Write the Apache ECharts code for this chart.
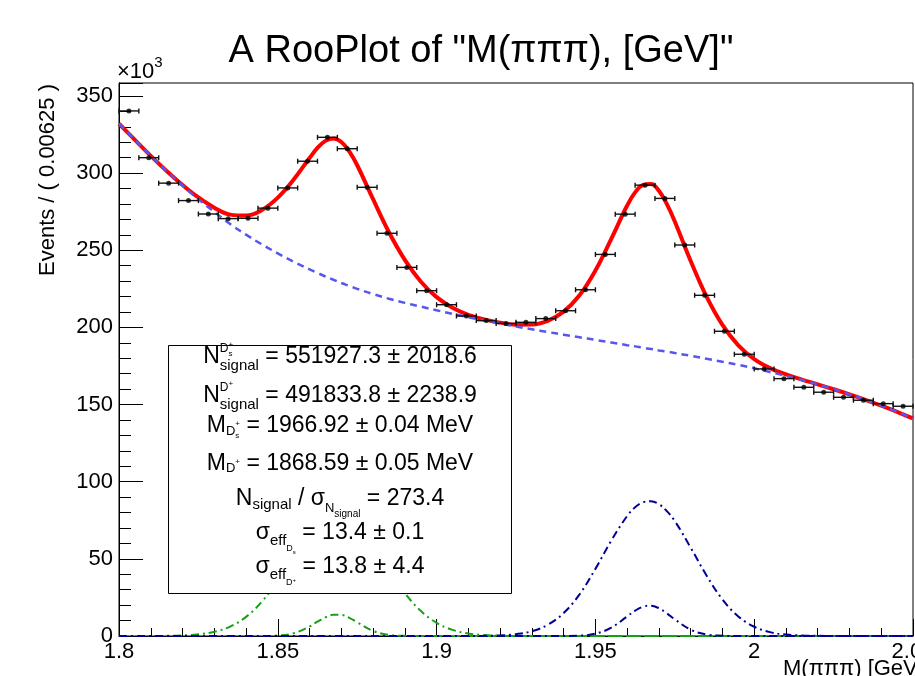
<!DOCTYPE html>
<html><head><meta charset="utf-8">
<script src="https://cdn.jsdelivr.net/npm/echarts@6/dist/echarts.min.js"></script>
<style>html,body{margin:0;padding:0;background:#fff}#c{width:915px;height:676px}</style>
</head><body><div id="c"></div>
<script>
// ---- data (values in units of 10^3 events) ----
const binWidth = 0.00625;
const binCenters = [1.803125,1.809375,1.815625,1.821875,1.828125,1.834375,1.840625,1.846875,1.853125,1.859375,
  1.865625,1.871875,1.878125,1.884375,1.890625,1.896875,1.903125,1.909375,1.915625,1.921875,
  1.928125,1.934375,1.940625,1.946875,1.953125,1.959375,1.965625,1.971875,1.978125,1.984375,
  1.990625,1.996875,2.003125,2.009375,2.015625,2.021875,2.028125,2.034375,2.040625,2.046875];
const eventCounts = [340.3,310.0,293.5,282.2,273.5,270.5,270.7,277.3,290.4,307.7,
  323.2,315.8,290.8,261.0,238.9,223.8,214.7,207.4,204.4,202.6,
  203.3,205.7,210.8,224.4,247.3,273.4,292.2,283.6,253.4,220.8,
  197.5,182.6,173.1,166.8,161.2,158.0,154.7,152.8,150.6,148.9];

const curveX = [1.800,1.805,1.810,1.815,1.820,1.825,1.830,1.835,1.840,1.845,1.850,1.855,1.860,1.8625,1.865,1.8675,1.870,1.8725,
  1.875,1.880,1.885,1.890,1.895,1.900,1.905,1.910,1.915,1.920,1.925,1.930,1.935,1.940,1.945,1.950,1.955,1.960,
  1.9625,1.965,1.9675,1.970,1.9725,1.975,1.980,1.985,1.990,1.995,2.000,2.005,2.010,2.015,2.020,2.025,2.030,2.035,2.040,2.045,2.050];
const fitTotal = [332.0,321.5,311.2,301.4,292.3,284.2,277.6,273.1,272.5,276.1,284.1,295.8,309.8,316.3,320.9,322.5,320.2,314.1,
  305.1,283.1,261.7,243.8,229.8,219.6,212.8,208.2,205.2,203.1,201.8,201.9,204.3,210.2,220.8,236.9,257.4,279.0,
  287.5,292.4,293.0,288.5,279.9,268.7,243.0,219.9,201.6,188.4,179.5,173.6,169.5,166.2,163.1,159.9,156.6,153.1,149.3,145.3,141.0];
const background = [332.0,321.5,311.2,301.3,291.9,283.1,274.9,267.0,260.1,253.8,248.0,242.6,237.6,235.3,233.0,230.9,228.8,226.9,
  225.0,221.6,218.6,215.9,213.5,211.1,208.8,206.6,204.5,202.5,200.6,198.8,197.0,195.3,193.6,191.9,190.2,188.5,
  187.7,186.8,186.0,185.1,184.3,183.4,181.6,179.7,177.7,175.7,173.5,171.1,168.6,165.9,163.0,159.9,156.6,153.1,149.3,145.3,141.0];
const dplusWide = [0,0,0,0.1,0.4,1.1,2.7,6.1,12.4,22.3,35.8,51.4,66.0,71.7,75.8,77.8,77.7,75.4,
  71.2,58.2,42.4,27.8,16.3,8.5,4.0,1.6,0.6,0.2,0,0,0,0,0,0,0,0,
  0,0,0,0,0,0,0,0,0,0,0,0,0,0,0,0,0,0,0,0,0];
const dplusNarrow = [0,0,0,0,0,0,0,0,0,0,0.3,1.8,6.2,9.3,12.1,13.8,13.7,11.8,
  8.9,3.3,0.7,0.1,0,0,0,0,0,0,0,0,0,0,0,0,0,0,
  0,0,0,0,0,0,0,0,0,0,0,0,0,0,0,0,0,0,0,0,0];
const dsMain = [0,0,0,0,0,0,0,0,0,0,0,0,0,0,0,0,0,0,
  0,0,0,0,0,0,0,0,0.1,0.4,1.2,3.1,7.3,14.9,27.0,43.5,61.8,77.8,
  83.4,86.6,87.4,85.4,80.9,74.5,57.3,39.2,23.7,12.7,6.0,2.5,0.9,0.3,0.1,0,0,0,0,0,0];
const dsNarrow = [0,0,0,0,0,0,0,0,0,0,0,0,0,0,0,0,0,0,
  0,0,0,0,0,0,0,0,0,0,0,0,0,0,0.2,1.5,5.4,12.7,
  16.4,19.0,19.6,18.0,14.7,10.8,4.1,1.0,0.2,0,0,0,0,0,0,0,0,0,0,0,0];

const titleText = 'A RooPlot of "M(\u03c0\u03c0\u03c0), [GeV]"';
const xTitle = 'M(\u03c0\u03c0\u03c0) [GeV]';
const yTitle = 'Events / ( 0.00625 )';

// ---- rendering ----
const FONT = '"Liberation Sans", Arial, Helvetica, sans-serif';
const mctx = document.createElement('canvas').getContext('2d');
function tw(t, s) { mctx.font = s + 'px ' + FONT; return mctx.measureText(t).width; }
function txt(t, x, y, s, opts) {
  opts = opts || {};
  const align = opts.align || 'left';
  return {
    type: 'text', x: x, y: y, rotation: opts.rotation || 0, z: opts.z || 101,
    style: { text: t, fontSize: s, fontFamily: FONT, fill: '#000',
      align: align, textAlign: align, verticalAlign: 'middle', textVerticalAlign: 'middle' }
  };
}
function txtB(t, x, base, s, opts) { return txt(t, x, base - 0.3465 * s, s, opts); }

function width(list) {
  let w = 0;
  for (const it of list) w += it.stack ? Math.max.apply(null, it.stack.map(width)) : tw(it.t, it.s);
  return w;
}
function place(list, x, base, out) {
  for (const it of list) {
    if (it.stack) {
      let mw = 0;
      for (const sub of it.stack) mw = Math.max(mw, place(sub, x, base, out) - x);
      x += mw;
    } else {
      out.push(txtB(it.t, x, base + it.dy, it.s));
      x += tw(it.t, it.s);
    }
  }
  return x;
}
function line(items, cx, base, out) { place(items, cx - width(items) / 2, base, out); }

const M = 23;
const legendLines = [
  [[{t:'N',s:M,dy:0},{stack:[[{t:'D',s:12,dy:-12},{stack:[[{t:'+',s:8,dy:-17}],[{t:'s',s:8,dy:-8}]]}],[{t:'signal',s:15,dy:6}]]},{t:' = 551927.3 \u00b1 2018.6',s:M,dy:0}], 365],
  [[{t:'N',s:M,dy:0},{stack:[[{t:'D',s:12,dy:-12},{t:'+',s:8,dy:-17}],[{t:'signal',s:15,dy:6}]]},{t:' = 491833.8 \u00b1 2238.9',s:M,dy:0}], 404],
  [[{t:'M',s:M,dy:0},{t:'D',s:13,dy:2},{stack:[[{t:'+',s:8,dy:-7}],[{t:'s',s:8,dy:5}]]},{t:' = 1966.92 \u00b1 0.04 MeV',s:M,dy:0}], 434],
  [[{t:'M',s:M,dy:0},{t:'D',s:13,dy:1},{t:'+',s:8,dy:-7},{t:' = 1868.59 \u00b1 0.05 MeV',s:M,dy:0}], 472],
  [[{t:'N',s:M,dy:0},{t:'signal',s:15,dy:3},{t:' / \u03c3',s:M,dy:0},{t:'N',s:13,dy:6},{t:'signal',s:10,dy:11},{t:' = 273.4',s:M,dy:0}], 507],
  [[{t:'\u03c3',s:M,dy:0},{t:'eff',s:15,dy:5},{t:'D',s:9,dy:11},{t:'s',s:6,dy:13},{t:' = 13.4 \u00b1 0.1',s:M,dy:0}], 541],
  [[{t:'\u03c3',s:M,dy:0},{t:'eff',s:15,dy:5},{t:'D',s:9,dy:11},{t:'+',s:6,dy:7},{t:' = 13.8 \u00b1 4.4',s:M,dy:0}], 575]
];

const graphics = [];
graphics.push({ type: 'rect', z: 100, shape: { x: 168.5, y: 345.5, width: 343, height: 248 },
  style: { fill: '#fff', stroke: '#000', lineWidth: 1 } });
for (const [items, base] of legendLines) line(items, 340, base, graphics);
graphics.push(txtB(titleText, 481, 65, 38, { align: 'center' }));
graphics.push(txtB('\u00d710', 117, 80, 22));
graphics.push(txtB('3', 117 + tw('\u00d710', 22), 68, 15));
graphics.push(txt(yTitle, 48, 84, 22, { align: 'right', rotation: Math.PI / 2 }));
graphics.push(txtB(xTitle, 783, 677, 22));

function pairs(ys) { return curveX.map((x, i) => [x, ys[i]]); }
const dashDot = [8, 4, 2, 4];

function renderErr(params, api) {
  const x = api.value(0), y = api.value(1);
  const a = api.coord([x - binWidth / 2, y]), b = api.coord([x + binWidth / 2, y]);
  const st = { stroke: '#111', lineWidth: 1.4 };
  return { type: 'group', children: [
    { type: 'line', shape: { x1: a[0], y1: a[1], x2: b[0], y2: b[1] }, style: st },
    { type: 'line', shape: { x1: a[0], y1: a[1] - 2.5, x2: a[0], y2: a[1] + 2.5 }, style: st },
    { type: 'line', shape: { x1: b[0], y1: b[1] - 2.5, x2: b[0], y2: b[1] + 2.5 }, style: st }
  ]};
}

const axisCol = { color: '#000', width: 1 };
const chart = echarts.init(document.getElementById('c'), null, { renderer: 'canvas' });
chart.setOption({
  animation: false,
  backgroundColor: '#fff',
  grid: { left: 119, right: 2, top: 83, bottom: 40, outerBoundsMode: 'none', containLabel: false,
    show: true, borderColor: '#000', borderWidth: 1, backgroundColor: 'transparent' },
  xAxis: {
    type: 'value', min: 1.8, max: 2.05, interval: 0.05,
    axisLine: { show: true, onZero: false, lineStyle: axisCol },
    axisTick: { show: true, inside: true, length: 17, lineStyle: axisCol },
    minorTick: { show: true, splitNumber: 5, length: 8, lineStyle: axisCol },
    splitLine: { show: false }, minorSplitLine: { show: false },
    axisLabel: { color: '#000', fontSize: 22, fontFamily: FONT, margin: 5, showMinLabel: true, showMaxLabel: true,
      hideOverlap: false, formatter: v => String(+v.toFixed(3)) }
  },
  yAxis: [
    { type: 'value', min: 0, max: 358.4, interval: 10,
      axisLine: { show: true, onZero: false, lineStyle: axisCol },
      axisTick: { show: true, inside: true, length: 12, lineStyle: axisCol },
      axisLabel: { show: false }, splitLine: { show: false } },
    { type: 'value', min: 0, max: 358.4, interval: 50, position: 'left',
      axisLine: { show: true, onZero: false, lineStyle: axisCol },
      axisTick: { show: true, inside: true, length: 24, lineStyle: axisCol },
      axisLabel: { color: '#000', fontSize: 22, fontFamily: FONT, margin: 6,
        formatter: v => (Math.abs(v % 50) < 1e-6 ? String(Math.round(v)) : '') },
      splitLine: { show: false } }
  ],
  graphic: { elements: graphics },
  series: [
    { type: 'line', name: 'fit', data: pairs(fitTotal), smooth: 0.4, showSymbol: false, z: 3,
      lineStyle: { color: '#ff0000', width: 4 } },
    { type: 'line', name: 'bkg', data: pairs(background), smooth: 0.4, showSymbol: false, z: 4,
      lineStyle: { color: '#5757ee', width: 2.5, type: [7, 5] } },
    { type: 'line', name: 'dpWide', data: pairs(dplusWide), smooth: 0.4, showSymbol: false, z: 5,
      lineStyle: { color: '#16a016', width: 2, type: dashDot } },
    { type: 'line', name: 'dpNarrow', data: pairs(dplusNarrow), smooth: 0.4, showSymbol: false, z: 5,
      lineStyle: { color: '#16a016', width: 2, type: dashDot } },
    { type: 'line', name: 'dsMain', data: pairs(dsMain), smooth: 0.4, showSymbol: false, z: 5,
      lineStyle: { color: '#000099', width: 2, type: dashDot } },
    { type: 'line', name: 'dsNarrow', data: pairs(dsNarrow), smooth: 0.4, showSymbol: false, z: 5,
      lineStyle: { color: '#000099', width: 2, type: dashDot } },
    { type: 'custom', name: 'errors', data: binCenters.map((x, i) => [x, eventCounts[i]]),
      encode: { x: 0, y: 1 }, renderItem: renderErr, z: 10 },
    { type: 'scatter', name: 'data', data: binCenters.map((x, i) => [x, eventCounts[i]]),
      symbol: 'circle', symbolSize: 5, itemStyle: { color: '#000' }, z: 11 }
  ]
});
</script></body></html>
